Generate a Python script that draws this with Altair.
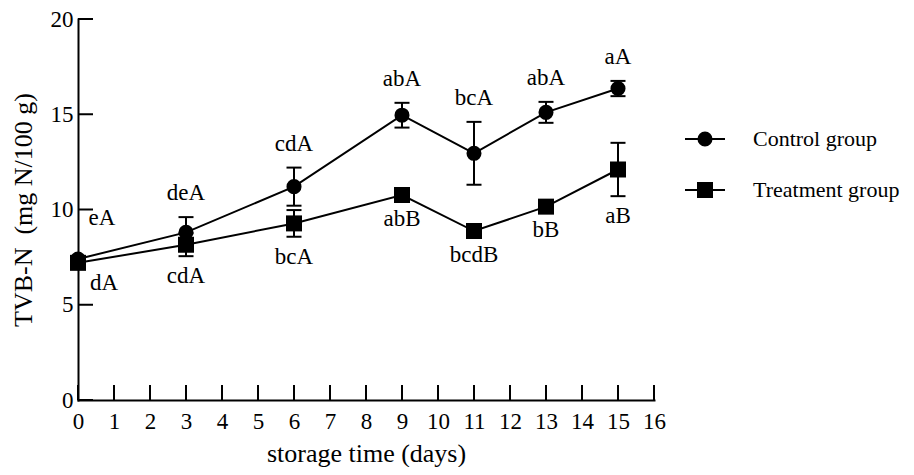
import altair as alt
import pandas as pd

# ---- data ----
days = [0, 3, 6, 9, 11, 13, 15]
series_names = ["Control group", "Treatment group"]
control_mean = [7.4, 8.8, 11.2, 14.95, 12.95, 15.1, 16.35]
control_err = [0.15, 0.8, 1.0, 0.65, 1.65, 0.55, 0.4]
treat_mean = [7.2, 8.15, 9.27, 10.76, 8.87, 10.15, 12.1]
treat_err = [0.15, 0.6, 0.7, 0.2, 0.2, 0.2, 1.4]
control_labels = ["eA", "deA", "cdA", "abA", "bcA", "abA", "aA"]
treat_labels = ["dA", "cdA", "bcA", "abB", "bcdB", "bB", "aB"]
x_ticks = list(range(0, 17))
y_ticks = [0, 5, 10, 15, 20]

rows = []
for name, means, errs, labs in [
    (series_names[0], control_mean, control_err, control_labels),
    (series_names[1], treat_mean, treat_err, treat_labels),
]:
    for d, m, e, l in zip(days, means, errs, labs):
        rows.append({"series": name, "day": d, "value": m, "err": e,
                     "lo": m - e, "hi": m + e, "label": l})
df = pd.DataFrame(rows)

W, H = 576, 381
FONT = "Liberation Serif"
FS_TICK = 23
FS_TITLE = 26
FS_TXT = 23
FS_LEG = 22

xs = alt.Scale(domain=[0, 16], nice=False, zero=False)
ys = alt.Scale(domain=[0, 20], nice=False, zero=False)

x_axis = alt.Axis(values=x_ticks, ticks=False, grid=False, domainWidth=2,
                  domainColor="black", domainCap="square", labelFont=FONT,
                  labelFontSize=FS_TICK, labelColor="black", labelPadding=10,
                  labelFlush=False, labelOverlap=False, labelSeparation=0,
                  title="storage time (days)", titleFont=FONT, titleFontSize=FS_TITLE,
                  titleFontWeight="normal", titleColor="black", titleY=61,
                  titleBaseline="alphabetic")
y_axis = alt.Axis(values=y_ticks, ticks=False, grid=False, domainWidth=2,
                  domainColor="black", domainCap="square", labelFont=FONT,
                  labelFontSize=FS_TICK, labelColor="black", labelPadding=5,
                  labelFlush=False, labelOverlap=False,
                  title="TVB-N\u00a0 (mg N/100 g)", titleFont=FONT,
                  titleFontSize=FS_TITLE, titleFontWeight="normal", titleColor="black",
                  titleX=-55, titleY=H / 2, titleAlign="center",
                  titleBaseline="middle", titleAngle=270)

X = alt.X("day:Q", scale=xs, axis=x_axis)
Xn = alt.X("day:Q", scale=xs, axis=x_axis)
base = alt.Chart(df)

lines = base.mark_line(color="black", strokeWidth=2).encode(
    x=X, y=alt.Y("value:Q", scale=ys, axis=y_axis), detail="series:N")

err_rules = base.mark_rule(color="black", strokeWidth=2).encode(
    x=Xn, y=alt.Y("lo:Q", scale=ys, axis=y_axis), y2="hi:Q")
cap_hi = base.mark_tick(orient="horizontal", size=15, thickness=2, color="black", opacity=1).encode(
    x=Xn, y=alt.Y("hi:Q", scale=ys, axis=y_axis))
cap_lo = base.mark_tick(orient="horizontal", size=15, thickness=2, color="black", opacity=1).encode(
    x=Xn, y=alt.Y("lo:Q", scale=ys, axis=y_axis))

circles = base.transform_filter(alt.datum.series == series_names[0]).mark_point(
    shape="circle", filled=True, size=227, color="black", opacity=1).encode(
    x=Xn, y=alt.Y("value:Q", scale=ys, axis=y_axis))
squares = base.transform_filter(alt.datum.series == series_names[1]).mark_point(
    shape="square", filled=True, size=256, color="black", opacity=1).encode(
    x=Xn, y=alt.Y("value:Q", scale=ys, axis=y_axis))

txt = dict(font=FONT, fontSize=FS_TXT, color="black", baseline="middle", align="center")
lab_c = base.transform_filter((alt.datum.series == series_names[0]) & (alt.datum.day > 0)).mark_text(
    dy=-24, **txt).encode(x=Xn, y=alt.Y("hi:Q", scale=ys, axis=y_axis), text="label:N")
lab_t = base.transform_filter((alt.datum.series == series_names[1]) & (alt.datum.day > 0)).mark_text(
    dy=20, **txt).encode(x=Xn, y=alt.Y("lo:Q", scale=ys, axis=y_axis), text="label:N")
lab_c0 = base.transform_filter((alt.datum.series == series_names[0]) & (alt.datum.day == 0)).mark_text(
    dx=24, dy=-41, **txt).encode(x=Xn, y=alt.Y("value:Q", scale=ys, axis=y_axis), text="label:N")
lab_t0 = base.transform_filter((alt.datum.series == series_names[1]) & (alt.datum.day == 0)).mark_text(
    dx=26, dy=20, **txt).encode(x=Xn, y=alt.Y("value:Q", scale=ys, axis=y_axis), text="label:N")

# inward ticks
tick_df_x = pd.DataFrame({"day": x_ticks})
tick_df_y = pd.DataFrame({"value": y_ticks})
xt = alt.Chart(tick_df_x).mark_rule(color="black", strokeWidth=2).encode(
    x=Xn, y=alt.value(H - 15), y2=alt.value(H))
yt = alt.Chart(tick_df_y).mark_rule(color="black", strokeWidth=2).encode(
    y=alt.Y("value:Q", scale=ys, axis=y_axis), x=alt.value(0), x2=alt.value(15))

# manual legend
legend_layers = []
shapes = ["circle", "square"]
sizes = [227, 256]
for i, name in enumerate(series_names):
    ld = alt.Chart(pd.DataFrame({"series": [name]}))
    yy = 120 + 51 * i
    legend_layers.append(ld.mark_rule(color="black", strokeWidth=2).encode(
        x=alt.value(607), x2=alt.value(647), y=alt.value(yy)))
    legend_layers.append(ld.mark_point(shape=shapes[i], filled=True, size=sizes[i],
                                       color="black", opacity=1).encode(
        x=alt.value(627), y=alt.value(yy)))
    legend_layers.append(ld.mark_text(font=FONT, fontSize=FS_LEG, color="black",
                                      baseline="middle", align="left").encode(
        x=alt.value(675), y=alt.value(yy), text="series:N"))

chart = alt.layer(
    lines, err_rules, cap_hi, cap_lo, circles, squares,
    lab_c, lab_t, lab_c0, lab_t0, xt, yt, *legend_layers
).properties(
    width=W, height=H,
    padding={"left": 70, "top": 11, "right": 252, "bottom": 67},
    autosize=alt.AutoSizeParams(type="none"),
    background="white",
).configure_view(stroke=None).configure_axis(labelOverlap=False)

chart.save("out.html", embed_options={"renderer": "svg", "actions": False})
